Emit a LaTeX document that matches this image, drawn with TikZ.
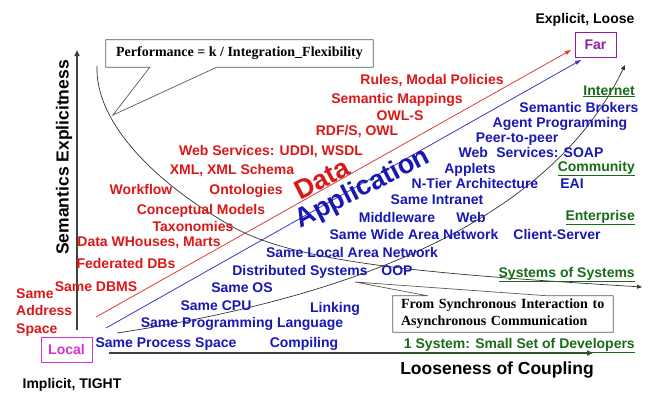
\documentclass[tikz,border=0pt]{standalone}
\usepackage{fontspec}
\setmainfont{Liberation Sans}
\newfontfamily\boxfont{Liberation Serif}
\usetikzlibrary{arrows.meta,calc}
\definecolor{datred}{RGB}{218,24,24}
\definecolor{appblue}{RGB}{24,24,178}
\definecolor{lvlgreen}{RGB}{24,108,24}
\definecolor{localmag}{RGB}{210,50,210}
\definecolor{farpurple}{RGB}{140,30,170}
\newcommand{\lblfont}{\bfseries\fontsize{14}{17.5}\selectfont}
\newcommand{\bigfont}{\bfseries\fontsize{27}{30}\selectfont}
\newcommand{\axfont}{\bfseries\fontsize{17.5}{20}\selectfont}

\begin{document}
\begin{tikzpicture}[x=1pt, y=-1pt,
    lbl/.style={inner sep=0pt, anchor=base, font=\lblfont},
    dat/.style={lbl, text=datred},
    app/.style={lbl, text=appblue},
    lvl/.style={lbl, anchor=base east, text=lvlgreen},
    ends/.style={draw, line width=0.9pt, minimum height=25, inner sep=0pt, font=\lblfont},
    note/.style={inner sep=0pt, font=\boxfont\bfseries\fontsize{14}{17}\selectfont},
    callout/.style={draw=black!65, line width=0.7pt},
    curve/.style={draw=black!80, line width=0.7pt, -{Triangle[length=5pt,width=4pt]}},
    axis/.style={draw=black!75, line width=1.6pt, -{Triangle[length=6pt,width=5pt]}}]
    \useasboundingbox (0,0) rectangle (650,392);

    % Corners
    \node[ends, draw=localmag, text=localmag, minimum width=51] (local) at (66.5,349.5) {Local};
    \node[ends, draw=farpurple, text=farpurple, minimum width=41] (far) at (595.5,44.5) {Far};
    \node[lbl] (implicit) at (72,388) {Implicit, TIGHT};
    \node[lbl] (explicit) at (585,23) {Explicit, Loose};

    % Axes
    \coordinate (ybot) at (77,330);
    \coordinate (ytop) at (77,50);
    \coordinate (xleft) at (109,353);
    \coordinate (xright) at (593,353);
    \draw[axis] (ybot) -- (ytop);
    \draw[axis] (xleft) -- (xright);
    \node[inner sep=0pt, font=\axfont, rotate=90] (semexp) at (64,157.5) {Semantics Explicitness};
    \node[inner sep=0pt, font=\axfont, anchor=base] (loose) at (497,374) {Looseness of Coupling};

    % Data and application arrows
    \coordinate (datstart) at (96,317);
    \coordinate (datend) at (571,50);
    \coordinate (appstart) at (106,328);
    \coordinate (append) at (581,60);
    \draw[datred!85, line width=0.8pt, -{Triangle[length=6pt,width=4pt]}] (datstart) -- (datend);
    \draw[appblue!85, line width=0.8pt, -{Triangle[length=6pt,width=4pt]}] (appstart) -- (append);
    \node[inner sep=0pt, font=\bigfont, text=datred, rotate=27] (data) at (322,179) {Data};
    \node[inner sep=0pt, font=\bigfont, text=appblue, rotate=27] (application) at (363,189) {Application};

    % Curves
    \coordinate (cplstart) at (117,333);
    \coordinate (cplend) at (625,65);
    \draw[curve] (cplstart) .. controls (400,290) and (560,200) .. (cplend);
    \coordinate (perfstart) at (97,66);
    \coordinate (perfmid) at (233,227);
    \coordinate (perfend) at (642,287);
    \draw[curve] (perfstart) .. controls (95,120) and (150,180) .. (perfmid)
        .. controls (300,265) and (450,275) .. (perfend);

    % Data labels
    \node[dat] (rules) at (432,84) {Rules, Modal Policies};
    \node[dat] (mappings) at (397,103) {Semantic Mappings};
    \node[dat] (owls) at (400,120) {OWL-S};
    \node[dat] (rdfs) at (357,135) {RDF/S, OWL};
    \node[dat] (uddi) at (271,155) {Web Services: UDDI, WSDL};
    \node[dat] (xml) at (232,174) {XML, XML Schema};
    \node[dat] (workflow) at (141,194) {Workflow};
    \node[dat] (onto) at (246,194) {Ontologies};
    \node[dat] (concept) at (201,214) {Conceptual Models};
    \node[dat] (taxo) at (193,231) {Taxonomies};
    \node[dat] (whouse) at (149,246) {Data WHouses, Marts};
    \node[dat] (feddb) at (126,268) {Federated DBs};
    \node[dat] (dbms) at (96,291) {Same DBMS};
    \node[dat, anchor=north west, align=left] (addr) at (16,288.5) {Same\\Address\\Space};

    % Application labels
    \node[app] (brokers) at (579,112) {Semantic Brokers};
    \node[app] (agent) at (560,127) {Agent Programming};
    \node[app] (ptop) at (517,142) {Peer-to-peer};
    \node[app] (soap) at (531,157) {Web\hspace{0.6em}Services: SOAP};
    \node[app] (applets) at (470,173) {Applets};
    \node[app] (ntier) at (475,188) {N-Tier Architecture};
    \node[app] (eai) at (572,188) {EAI};
    \node[app] (intranet) at (437,204) {Same Intranet};
    \node[app] (middleware) at (397,222) {Middleware};
    \node[app] (web) at (471,222) {Web};
    \node[app] (wan) at (414,239) {Same Wide Area Network};
    \node[app] (clsrv) at (557,239) {Client-Server};
    \node[app] (lan) at (352,257) {Same Local Area Network};
    \node[app] (distsys) at (300,275) {Distributed Systems};
    \node[app] (oop) at (397,275) {OOP};
    \node[app] (os) at (242,292) {Same OS};
    \node[app] (cpu) at (216,310) {Same CPU};
    \node[app] (linking) at (335,312) {Linking};
    \node[app] (proglang) at (242,327) {Same Programming Language};
    \node[app] (procspace) at (166,347) {Same Process Space};
    \node[app] (compiling) at (304,347) {Compiling};

    % Levels
    \node[lvl] (internet) at (635,95) {\underline{Internet}};
    \node[lvl] (community) at (635,171) {\underline{Community}};
    \node[lvl] (enterprise) at (635,220) {\underline{Enterprise}};
    \node[lvl] (sos) at (635,277) {\underline{Systems of Systems}};
    \node[lvl] (onesys) at (635,348) {\underline{1 System: Small Set of Developers}};

    % Callouts
    \node[note, minimum width=267, minimum height=27] (perfbox) at (239.5,53.5) {Performance = k / Integration\_Flexibility};
    \coordinate (perftip) at (113,115);
    \draw[callout] (perfbox.north west) -- (perfbox.north east) -- (perfbox.south east)
        -- ($(perfbox.south west)+(111,0)$) -- (perftip) -- ($(perfbox.south west)+(44,0)$)
        -- (perfbox.south west) -- cycle;
    \node[note, minimum width=220, minimum height=36, text width=204, align=left] (syncbox) at (503,314)
        {From Synchronous Interaction to\\Asynchronous Communication};
    \coordinate (synctip) at (355,282);
    \draw[callout] (syncbox.north west) -- ($(syncbox.north west)+(35,0)$) -- (synctip)
        -- ($(syncbox.north west)+(155,0)$) -- (syncbox.north east) -- (syncbox.south east)
        -- (syncbox.south west) -- cycle;
\end{tikzpicture}
\end{document}
